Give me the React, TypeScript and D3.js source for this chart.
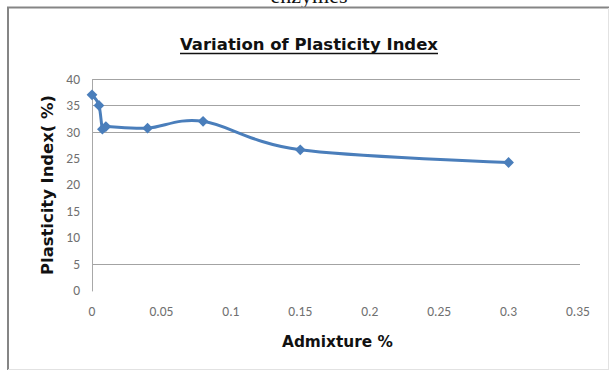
import React from "react";
import * as d3 from "d3";

// Admixture content (%) and the measured plasticity index (%)
const admixture = [0, 0.005, 0.0075, 0.01, 0.04, 0.08, 0.15, 0.3];
const plasticityIndex = [37, 35, 30.5, 31, 30.7, 32, 26.6, 24.2];

const xTicks = [0, 0.05, 0.1, 0.15, 0.2, 0.25, 0.3, 0.35];
const yTicks = [0, 5, 10, 15, 20, 25, 30, 35, 40];
const gridValues = [40, 35, 30, 5];

const W = 613;
const H = 372;

const titleFont = "'Comic Sans MS', 'DejaVu Sans', sans-serif";
const tickFont = "Carlito, 'Open Sans', 'Liberation Sans', sans-serif";

export default function App() {
  const x = d3.scaleLinear().domain([0, 0.35]).range([92, 578]);
  const y = d3.scaleLinear().domain([0, 40]).range([290.4, 79]);

  const pts: [number, number][] = admixture.map((a, i) => [a, plasticityIndex[i]]);
  const line = d3
    .line<[number, number]>()
    .x((d) => x(d[0]))
    .y((d) => y(d[1]))
    .curve(d3.curveCardinal.tension(0));

  const diamond = d3.symbol().type(d3.symbolSquare).size(58)() as string;

  return (
    <svg
      width={W}
      height={H}
      style={{ position: "absolute", left: 0, top: 0, background: "#fff" }}
    >
      {/* trailing caption of the text above */}
      <text
        x={309}
        y={3}
        textAnchor="middle"
        fontFamily="'Liberation Serif', 'DejaVu Serif', serif"
        fontSize={22}
        fill="#111"
      >
        enzymes
      </text>

      {/* chart frame */}
      <line x1={7} y1={7.5} x2={609} y2={7.5} stroke="#858585" strokeWidth={2} />
      <line x1={8} y1={7} x2={8} y2={370} stroke="#858585" strokeWidth={2} />
      <line x1={608.5} y1={8} x2={608.5} y2={369.5} stroke="#e2e2e2" strokeWidth={1} />
      <line x1={8} y1={369.5} x2={609} y2={369.5} stroke="#e2e2e2" strokeWidth={1} />

      {/* title */}
      <text
        x={180}
        y={50}
        fontFamily={titleFont}
        fontWeight="bold"
        fontSize={16}
        textLength={258}
        lengthAdjust="spacingAndGlyphs"
        fill="#111"
      >
        Variation of Plasticity Index
      </text>
      <line x1={180} y1={53.5} x2={438} y2={53.5} stroke="#111" strokeWidth={1.5} />

      {/* gridlines */}
      {gridValues.map((v) => (
        <line
          key={v}
          x1={x(0)}
          x2={580}
          y1={Math.round(y(v)) + 0.5}
          y2={Math.round(y(v)) + 0.5}
          stroke="#a3a3a3"
          strokeWidth={1}
        />
      ))}

      {/* y axis */}
      <line x1={92.5} y1={y(40)} x2={92.5} y2={y(0) + 1} stroke="#a8a8a8" strokeWidth={1} />

      {yTicks.map((v) => (
        <text
          key={v}
          x={80}
          y={y(v)}
          dy="0.35em"
          textAnchor="end"
          fontFamily={tickFont}
          fontSize={13.5}
          fill="#707070"
        >
          {v}
        </text>
      ))}

      {xTicks.map((v) => (
        <text
          key={v}
          x={x(v)}
          y={311}
          dy="0.35em"
          textAnchor="middle"
          fontFamily={tickFont}
          fontSize={13.5}
          fill="#707070"
        >
          {v}
        </text>
      ))}

      {/* axis titles */}
      <text
        x={282}
        y={347}
        fontFamily={titleFont}
        fontWeight="bold"
        fontSize={15}
        textLength={111}
        lengthAdjust="spacingAndGlyphs"
        fill="#111"
      >
        Admixture %
      </text>
      <text
        transform="translate(53,275) rotate(-90)"
        x={0}
        y={0}
        fontFamily={titleFont}
        fontWeight="bold"
        fontSize={15}
        textLength={180}
        lengthAdjust="spacingAndGlyphs"
        fill="#111"
      >
        Plasticity Index( %)
      </text>

      {/* series */}
      <path d={line(pts) as string} fill="none" stroke="#4a7ebb" strokeWidth={3} strokeLinejoin="round" />
      {pts.map((d, i) => (
        <path
          key={i}
          d={diamond}
          transform={`translate(${x(d[0])},${y(d[1])}) rotate(45)`}
          fill="#4a7ebb"
        />
      ))}
    </svg>
  );
}
